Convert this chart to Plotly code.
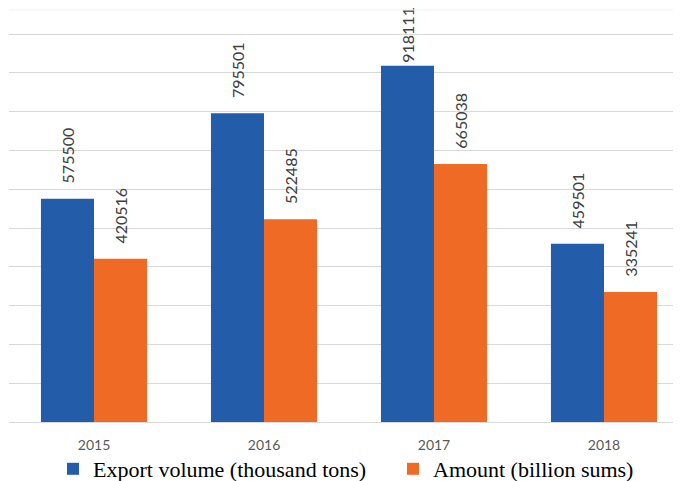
import plotly.graph_objects as go

years = ["2015", "2016", "2017", "2018"]
export_volume = [575500, 795501, 918111, 459501]
amount = [420516, 522485, 665038, 335241]
series_names = ["Export volume (thousand tons)", "Amount (billion sums)"]
blue = "#235CA9"
orange = "#EF6A24"

W, H = 673, 473
ymax = 1061856
pad = "\u00a0\u00a0\u00a0"


def labels(values):
    # labels that would not fit above the bar are drawn without the gap
    out = []
    for v in values:
        out.append(str(v) if v > 0.85 * ymax else pad + str(v))
    return out


fig = go.Figure()
fig.add_trace(go.Bar(
    x=years, y=export_volume, name=series_names[0], legend="legend",
    marker=dict(color=blue, line=dict(width=0)),
    text=labels(export_volume),
    textposition="outside", textangle=-90, cliponaxis=False,
    constraintext="none",
    textfont=dict(family="Lato", size=16, color="#404040"),
))
fig.add_trace(go.Bar(
    x=years, y=amount, name=series_names[1], legend="legend2",
    marker=dict(color=orange, line=dict(width=0)),
    text=labels(amount),
    textposition="outside", textangle=-90, cliponaxis=False,
    constraintext="none",
    textfont=dict(family="Lato", size=16, color="#404040"),
))

legend_style = dict(
    orientation="h", xref="container", yref="container",
    xanchor="left", yanchor="top", y=1 - 440 / H,
    bgcolor="rgba(0,0,0,0)",
    font=dict(family="Liberation Serif", size=22, color="#000000"),
    itemwidth=30,
)

fig.update_layout(
    width=W, height=H,
    margin=dict(l=1, r=0, t=2, b=59, autoexpand=False),
    paper_bgcolor="white", plot_bgcolor="white",
    barmode="group", bargap=0.376, bargroupgap=0,
    showlegend=True,
    legend=dict(legend_style, x=45 / W),
    legend2=dict(legend_style, x=385 / W),
    xaxis=dict(
        range=[-0.5, 3.453],
        showgrid=False, showline=False, ticks="",
        ticklabelstandoff=13,
        tickfont=dict(family="Lato", size=14, color="#595959"),
    ),
    yaxis=dict(
        range=[0, ymax], dtick=100000, tick0=0,
        showgrid=True, gridcolor="#D9D9D9", gridwidth=1,
        zeroline=True, zerolinecolor="#D9D9D9", zerolinewidth=1,
        showticklabels=False, ticks="", showline=False,
    ),
    font=dict(family="Lato"),
)
fig.add_shape(type="line", xref="paper", yref="paper", x0=0, x1=1, y0=1, y1=1,
              line=dict(color="#F0F0F0", width=1))

fig.write_html("out.html")
